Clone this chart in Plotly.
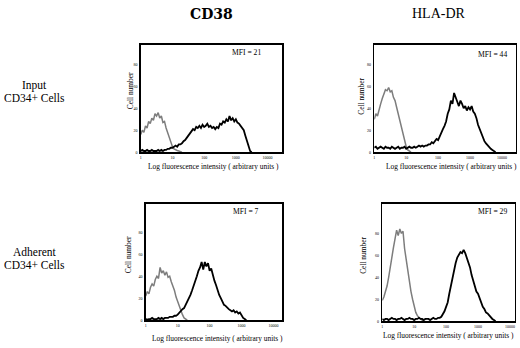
import plotly.graph_objects as go

# ---------------- data (histogram counts per 0.05-decade bin, starting at decade 0) ----------------
BIN = 0.05
COLUMNS = ["CD38", "HLA-DR"]
ROWS = [["Input", "CD34+ Cells"], ["Adherent", "CD34+ Cells"]]
MFI = [21, 44, 7, 29]
DECADE_TICKS = [0, 1, 2, 3, 4]
DECADE_LABELS = ["1", "10", "100", "1000", "10000"]
COUNT_TICKS = [0, 20, 40, 60, 80]
COUNT_LABELS = ["0", "20", "40", "60", "80"]

CD38_INPUT_ISO = [16, 20, 18, 24, 22, 28, 26, 31, 29, 35, 33, 36, 31, 33, 27, 28, 22, 18, 12, 8,
                  5, 3, 2, 1.5, 1, 0.5, 0]
CD38_INPUT_STAIN = [1, 2, 1, 1, 2, 1, 1, 2, 1, 1, 1, 2, 1, 2, 1, 2, 2, 3, 3,
                    4, 4, 5, 6, 5, 7, 7, 8, 10, 11, 13, 15, 17, 19, 21, 20, 23, 22, 24, 22,
                    25, 23, 24, 26, 23, 24, 22, 23, 21, 23, 22, 26, 25, 28, 27, 30, 28, 33,
                    29, 31, 28, 30, 27, 26, 24, 22, 20, 15, 10, 4, 1, 0]
HLADR_INPUT_ISO = [30, 35, 33, 40, 44, 49, 53, 57, 56, 59, 55, 56, 50, 47, 41, 35, 27, 22, 15,
                   10, 5, 2, 1, 0]
HLADR_INPUT_STAIN = [4, 5, 3, 4, 5, 4, 3, 5, 4, 4, 3, 5, 4, 3, 4, 5, 3, 4, 4, 5, 3, 4, 5, 4, 4,
                     5, 4, 5, 6, 5, 6, 5, 6,
                     6, 7, 7, 9, 8, 10, 12, 11, 15, 17, 21, 24, 28, 35, 39, 47, 44, 54, 49,
                     46, 42, 47, 44, 40, 42, 38, 41, 39, 42, 37, 35, 31, 25, 21, 17, 13, 10,
                     8, 6, 5, 3, 2, 1, 0]
CD38_ADH_ISO = [22, 26, 24, 30, 33, 31, 37, 40, 38, 48, 43, 45, 41, 44, 39, 40, 35, 31, 27, 21,
                17, 12, 8, 5, 2, 1, 0]
CD38_ADH_STAIN = [1, 0.5, 1, 1, 2, 1, 1, 1, 2, 1, 2, 1, 2, 2, 2, 3, 3,
                  3, 4, 4, 5, 7, 8, 10, 11, 14, 16, 20, 23, 27, 31, 36, 40, 45, 48, 53, 46,
                  53, 49, 52, 45, 47, 40, 36, 32, 27, 23, 20, 17, 14, 13, 11, 10, 9, 8, 9,
                  7, 8, 6, 7, 4, 2, 1, 0]
HLADR_ADH_ISO = [19, 22, 27, 32, 40, 50, 58, 67, 75, 83, 78, 84, 80, 82, 66, 56, 45, 36, 27,
                 20, 13, 8, 5, 3, 2, 1, 0]
HLADR_ADH_STAIN = [2, 1, 2, 2, 1, 2, 3, 2, 2, 1, 2, 2, 3, 2, 1, 2, 2, 3, 2, 2, 1, 2, 2, 3, 2,
                   2, 1, 2, 2, 2, 1, 2, 3, 2, 2, 3,
                   3, 4, 6, 9, 13, 17, 25, 32, 40, 48, 53, 58, 60, 63, 62, 65, 62, 58, 53,
                   49, 42, 37, 31, 27, 25, 21, 18, 13, 11, 8, 7, 5, 4, 2, 1, 0]

PANELS = [
    (CD38_INPUT_ISO, CD38_INPUT_STAIN),
    (HLADR_INPUT_ISO, HLADR_INPUT_STAIN),
    (CD38_ADH_ISO, CD38_ADH_STAIN),
    (HLADR_ADH_ISO, HLADR_ADH_STAIN),
]

# ---------------- layout geometry (pixels) ----------------
W, H = 520, 348
# left, right, top, bottom of each plot frame, and x-range end, y-range end
BOXES = [
    (140, 282, 45, 153, 4.47, 98),
    (374, 516, 45, 153, 4.44, 98),
    (145, 282, 205, 322, 4.28, 106),
    (382, 515, 205, 323, 4.16, 107),
]

SERIF = "Liberation Serif, Times New Roman, serif"
fig = go.Figure()
layout = {}
for i, ((iso, stain), (l, r, t, b, xmax, ymax)) in enumerate(zip(PANELS, BOXES)):
    n = "" if i == 0 else str(i + 1)
    xa, ya = "x" + n, "y" + n
    fig.add_trace(go.Scatter(x=[k * BIN for k in range(len(iso))], y=iso, mode="lines",
                             line=dict(color="#7d7d7d", width=1.5), xaxis=xa, yaxis=ya,
                             showlegend=False, hoverinfo="skip"))
    fig.add_trace(go.Scatter(x=[k * BIN for k in range(len(stain))], y=stain, mode="lines",
                             line=dict(color="#000000", width=1.8), xaxis=xa, yaxis=ya,
                             showlegend=False, hoverinfo="skip"))
    common = dict(showline=True, mirror=True, linecolor="black", linewidth=1.4,
                  showgrid=False, zeroline=False, ticks="", fixedrange=True,
                  tickfont=dict(family=SERIF, size=4, color="black"))
    layout["xaxis" + n] = dict(domain=[l / W, r / W], range=[0, xmax], anchor=ya,
                               tickvals=DECADE_TICKS, ticktext=DECADE_LABELS, ticklabelstandoff=1,
                               **common)
    layout["yaxis" + n] = dict(domain=[1 - b / H, 1 - t / H], range=[0, ymax], anchor=xa,
                               tickvals=COUNT_TICKS, ticktext=COUNT_LABELS, ticklabelstandoff=1,
                               **common)

ann = []
def add(text, x, y, size, angle=0, family=SERIF, bold=False):
    ann.append(dict(text=("<b>%s</b>" % text) if bold else text, x=x / W, y=1 - y / H,
                    xref="paper", yref="paper", xanchor="center", yanchor="middle",
                    showarrow=False, textangle=angle,
                    font=dict(family=family, size=size, color="black")))

add(COLUMNS[0], 211, 14, 14, family="DejaVu Serif, serif", bold=True)
add(COLUMNS[1], 439, 14, 14, family=SERIF)
add(ROWS[0][0], 34, 86, 11.5)
add(ROWS[0][1], 34, 99, 11.5)
add(ROWS[1][0], 34, 253, 11.5)
add(ROWS[1][1], 34, 267, 11.5)

XTITLE = "Log fluorescence intensity ( arbitrary units )"
YTITLE = "Cell number"
for (cx, cy) in [(213, 167), (451, 167), (217, 340), (448, 337)]:
    add(XTITLE, cx, cy, 7.4)
for (cx, cy) in [(130, 91), (361, 97), (128, 256), (363, 257)]:
    add(YTITLE, cx, cy, 7.4, angle=-90)
for m, (cx, cy) in zip(MFI, [(246, 53), (492, 55), (245, 213), (492, 213)]):
    add("MFI = %d" % m, cx, cy, 7.6)

fig.update_layout(width=W, height=H, margin=dict(l=0, r=0, t=0, b=0), autosize=False,
                  paper_bgcolor="white", plot_bgcolor="white", annotations=ann, **layout)
fig.write_html("out.html", config={"displayModeBar": False, "staticPlot": True},
               post_script="document.body.style.margin='0';document.body.style.overflow='hidden';")
